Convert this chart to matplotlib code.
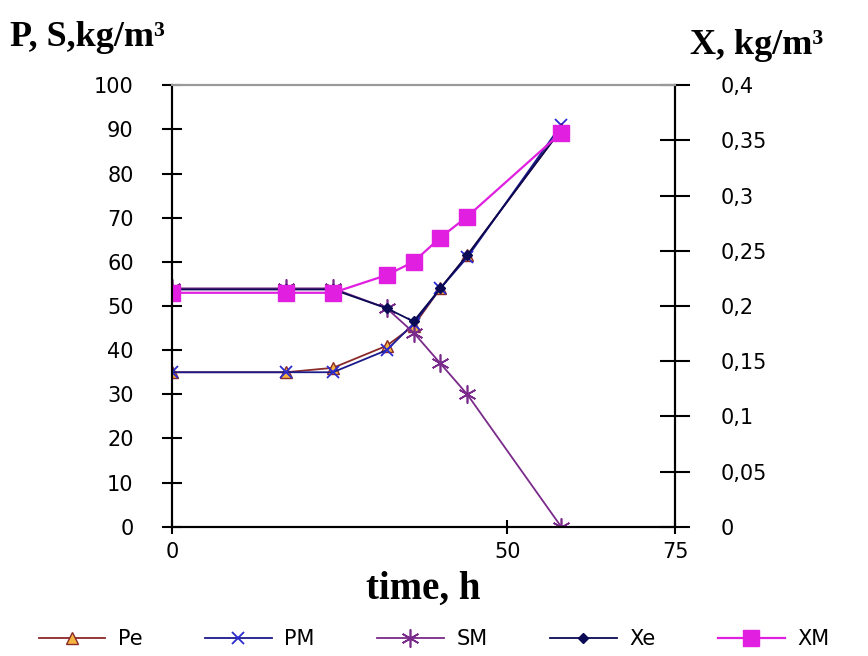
import matplotlib
matplotlib.use("Agg")
import matplotlib.pyplot as plt
from matplotlib.ticker import FixedLocator, FuncFormatter

# Data
time_h = [0, 17, 24, 32, 36, 40, 44, 58]
Pe = [35, 35, 36, 41, 45.5, 54, 61.5, 90]
PM = [35, 35, 35, 40, 46, 54, 61, 91]
SM = [54, 54, 54, 49.5, 44, 37, 30, 0]
Xe = [0.215, 0.215, 0.215, 0.198, 0.186, 0.216, 0.246, 0.36]
XM = [0.212, 0.212, 0.212, 0.228, 0.240, 0.262, 0.281, 0.357]

left_ticks = list(range(0, 101, 10))
right_ticks = [0, 0.05, 0.1, 0.15, 0.2, 0.25, 0.3, 0.35, 0.4]
right_labels = ["0", "0,05", "0,1", "0,15", "0,2", "0,25", "0,3", "0,35", "0,4"]
x_ticks = [0, 50, 75]

fig = plt.figure(figsize=(8.68, 6.56), dpi=100)
ax = fig.add_axes([0.198, 0.197, 0.580, 0.673])
ax2 = ax.twinx()

c_pe = "#8B2A2A"
c_pm = "#1A1A8C"
c_sm = "#7A2A8A"
c_xe = "#0A0A55"
c_xm = "#E01FE0"

l1, = ax.plot(time_h, Pe, color=c_pe, lw=1.3, marker="^", ms=9,
              mfc="#F5B540", mec=c_pe, mew=1.0, label="Pe")
l2, = ax.plot(time_h, PM, color=c_pm, lw=1.3, marker="x", ms=9,
              mec="#2A2AD0", mew=1.3, label="PM")
l3, = ax.plot(time_h, SM, color=c_sm, lw=1.3, marker=(6, 2, 0), ms=13,
              mec=c_sm, mew=1.2, label="SM")
l4, = ax2.plot(time_h, Xe, color=c_xe, lw=1.3, marker="D", ms=5,
               mfc=c_xe, mec=c_xe, label="Xe")
l5, = ax2.plot(time_h, XM, color=c_xm, lw=1.6, marker="s", ms=12,
               mfc=c_xm, mec=c_xm, label="XM")

ax.set_xlim(0, 75)
ax.set_ylim(0, 100)
ax2.set_ylim(0, 0.4)

ax.xaxis.set_major_locator(FixedLocator(x_ticks))
ax.yaxis.set_major_locator(FixedLocator(left_ticks))
ax2.yaxis.set_major_locator(FixedLocator(right_ticks))
ax2.yaxis.set_major_formatter(FuncFormatter(
    lambda v, p: right_labels[right_ticks.index(round(v, 2))] if round(v, 2) in right_ticks else ""))

for a in (ax, ax2):
    for s in a.spines.values():
        s.set_linewidth(1.5)
        s.set_color("black")
    a.spines["top"].set_color("#999999")

ax.tick_params(axis="y", direction="inout", length=15, width=1.5,
               labelsize=15, pad=20)
ax2.tick_params(axis="y", direction="inout", length=21, width=1.5,
                labelsize=15, pad=22)
ax.tick_params(axis="x", direction="inout", length=10, width=1.5,
               labelsize=15, pad=6)

ax.set_xlabel("time, h", family="Liberation Serif", fontweight="bold",
              fontsize=28, labelpad=6)

fig.text(0.012, 0.918, "P, S,kg/m\u00b3", family="Liberation Serif",
         fontweight="bold", fontsize=26, ha="left", va="bottom")
fig.text(0.795, 0.905, "X, kg/m\u00b3", family="Liberation Serif",
         fontweight="bold", fontsize=26, ha="left", va="bottom")

leg = fig.legend(handles=[l1, l2, l3, l4, l5], labels=["Pe", "PM", "SM", "Xe", "XM"],
                 loc="lower center", bbox_to_anchor=(0.5, -0.018), ncol=5,
                 frameon=False, fontsize=15, handlelength=3.2,
                 columnspacing=3.0, handletextpad=0.6)

fig.savefig("out.png", dpi=100)
